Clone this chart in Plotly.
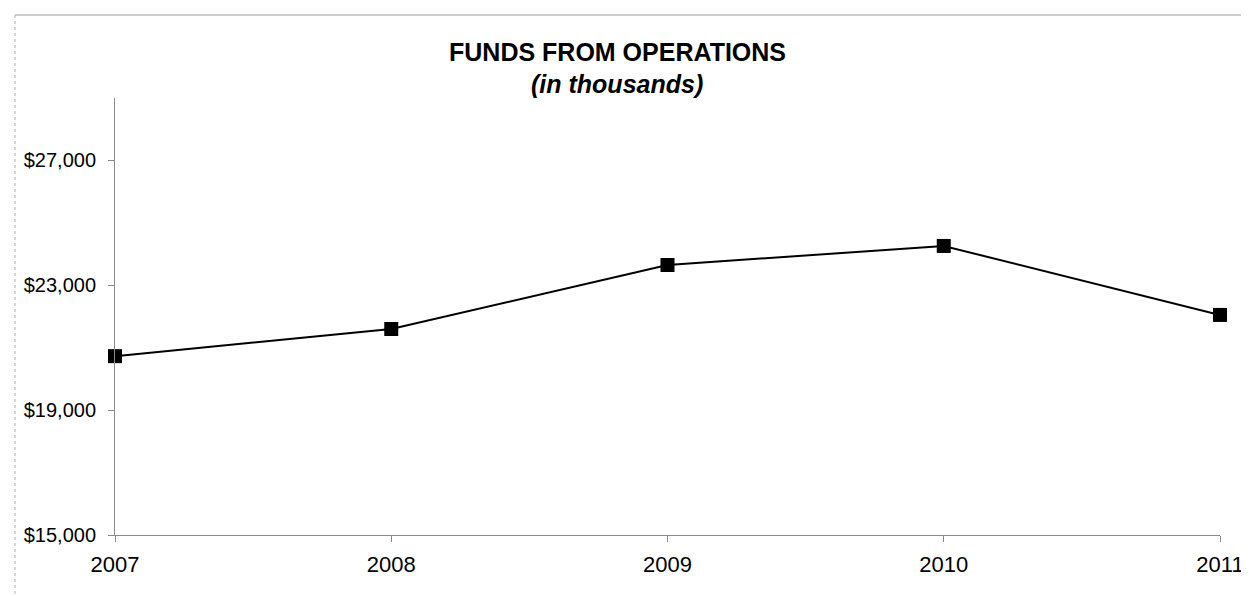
import plotly.graph_objects as go

years = [2007, 2008, 2009, 2010, 2011]
ffo = [20730, 21600, 23650, 24260, 22050]
y_ticks = [15000, 19000, 23000, 27000]
y_tick_labels = ["$15,000", "$19,000", "$23,000", "$27,000"]
title_text = "FUNDS FROM OPERATIONS"
subtitle_text = "(in thousands)"

FONT = "Arial, 'Liberation Sans', sans-serif"
W, H = 1249, 596
L, R, T, B = 107, 37, 90, 69
pw, ph = W - L - R, H - T - B

def px_x(px):
    return (px - L) / pw

def px_y(py):
    return (H - B - py) / ph

fig = go.Figure()
fig.add_trace(go.Scatter(
    x=years, y=ffo, mode="lines+markers",
    line=dict(color="black", width=2),
    marker=dict(symbol="square", size=14, color="black"),
    cliponaxis=False, showlegend=False,
))

axis_color = "#8a8a8a"
fig.update_xaxes(
    range=[2007, 2011], tickvals=years, ticktext=[str(y) for y in years],
    showgrid=False, zeroline=False, showline=True, linecolor=axis_color, linewidth=1,
    ticks="outside", ticklen=6, tickcolor=axis_color, ticklabelstandoff=4,
    tickfont=dict(family=FONT, size=22, color="black"),
)
fig.update_yaxes(
    range=[15000, 29000], tickvals=y_ticks, ticktext=y_tick_labels,
    showgrid=False, zeroline=False, showline=True, linecolor=axis_color, linewidth=1,
    ticks="outside", ticklen=6, tickcolor=axis_color, ticklabelstandoff=8,
    tickfont=dict(family=FONT, size=20, color="black"),
)

fig.add_annotation(x=px_x(609), y=px_y(44), xref="paper", yref="paper",
                   text="<b>" + title_text + "</b>", showarrow=False,
                   xanchor="center", yanchor="middle",
                   font=dict(family=FONT, size=25, color="black"))
fig.add_annotation(x=px_x(609), y=px_y(76), xref="paper", yref="paper",
                   text="<b><i>" + subtitle_text + "</i></b>", showarrow=False,
                   xanchor="center", yanchor="middle",
                   font=dict(family=FONT, size=25, color="black"))

# outer frame (top, left, right)
border = dict(color="#9a9a9a", width=1)
fig.add_shape(type="line", xref="paper", yref="paper",
              x0=px_x(7), x1=px_x(1247), y0=px_y(7), y1=px_y(7), line=border)
fig.add_shape(type="line", xref="paper", yref="paper",
              x0=px_x(7), x1=px_x(7), y0=px_y(7), y1=px_y(600), line=dict(color="#b0b0b0", width=1, dash="dot"))
fig.add_shape(type="line", xref="paper", yref="paper",
              x0=px_x(1247), x1=px_x(1247), y0=px_y(7), y1=px_y(600), line=dict(color="#b0b0b0", width=1, dash="dot"))

fig.update_layout(
    width=W, height=H,
    margin=dict(l=L, r=R, t=T, b=B, pad=0),
    paper_bgcolor="white", plot_bgcolor="white",
    font=dict(family=FONT, color="black"),
)
fig.write_html("out.html")
